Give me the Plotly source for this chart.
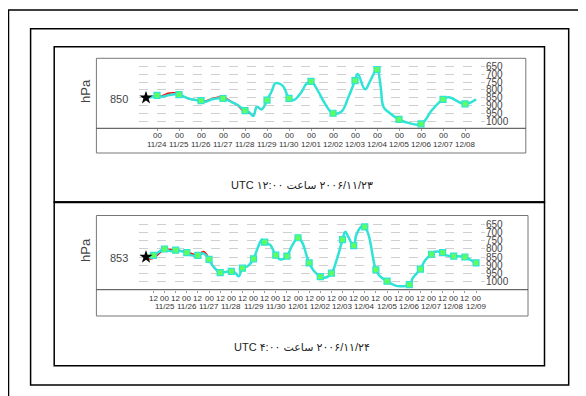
import plotly.graph_objects as go

# browser body margin is 8px: figure sits at (8, 8) inside the 586x396 window
OFF = 8
W, H = 586 - OFF, 396 - OFF

# ---------------- data (pressure in hPa vs hours since start) ----------------
# top panel: start 2006/11/23 12:00 UTC
top_t = [0, 6, 12, 18, 24, 29, 36, 42, 48, 60, 66, 72, 84, 94, 100, 108, 113, 117, 121, 126,
         132, 137, 141, 145, 150, 156, 161, 169, 175, 180, 188, 195, 204, 213, 221, 228, 231,
         239, 245, 252, 256, 259, 264, 276, 286, 300, 312, 324, 330, 348, 360]
top_p = [850, 845, 835, 843, 834, 829, 830, 845, 858, 869, 875, 860, 855, 880, 897, 933, 945, 968, 908, 925,
         865, 810, 757, 758, 779, 854, 865, 818, 760, 745, 811, 886, 950, 940, 843, 740, 697,
         796, 736, 668, 780, 908, 940, 989, 1012, 1019, 929, 860, 847, 890, 860]
top_red_t = [0, 6, 12, 18, 24, 30, 36, 42, 48, 60, 66, 72, 84, 94, 100, 108, 113, 117, 121, 126, 132]
top_red_p = [850, 842, 838, 836, 822, 818, 824, 845, 858, 869, 870, 856, 847, 878, 900, 946, 950, 966, 910, 925, 865]
top_tick_t = [12, 36, 60, 84, 108, 132, 156, 180, 204, 228, 252, 276, 300, 324, 348]
top_tick_hour = ["00"] * 15
top_tick_date = ["11/24", "11/25", "11/26", "11/27", "11/28", "11/29", "11/30", "12/01",
                 "12/02", "12/03", "12/04", "12/05", "12/06", "12/07", "12/08"]

# bottom panel: start 2006/11/24 04:00 UTC
bot_t = [0, 8, 20, 26, 32, 38, 44, 49, 56, 62, 68, 72, 80, 85, 92, 96, 100, 104, 110, 116,
         121, 125, 128, 134, 140, 145, 152, 157, 164, 168, 176, 181, 188, 193, 200, 206, 212,
         215, 218, 224, 227, 233, 236, 240, 248, 252, 260, 269, 276, 284, 288, 296, 301, 308,
         312, 320, 324, 332, 344, 351, 356]
bot_p = [850, 840, 801, 814, 808, 814, 823, 840, 840, 829, 865, 903, 945, 941, 938, 945, 968, 918, 905, 861,
         787, 745, 759, 776, 839, 865, 844, 787, 732, 755, 886, 934, 970, 977, 949, 861, 744,
         696, 724, 780, 713, 660, 666, 713, 928, 966, 998, 1025, 1029, 1019, 977, 924, 871, 833,
         818, 823, 840, 844, 850, 871, 886]
bot_red_t = [0, 4, 8, 20, 32, 44, 56, 62, 68, 72, 80]
bot_red_p = [852, 862, 858, 806, 808, 820, 836, 816, 860, 905, 948]
bot_tick_t = [8, 20, 32, 44, 56, 68, 80, 92, 104, 116, 128, 140, 152, 164, 176, 188, 200, 212,
              224, 236, 248, 260, 272, 284, 296, 308, 320, 332, 344, 356]
bot_tick_hour = ["12", "00"] * 15
bot_tick_date = ["11/25", "11/26", "11/27", "11/28", "11/29", "11/30", "12/01", "12/02",
                 "12/03", "12/04", "12/05", "12/06", "12/07", "12/08", "12/09"]

levels = [650, 700, 750, 800, 850, 900, 950, 1000]
start_labels = ["850", "853"]
captions = ["\u202B۲۰۰۶/۱۱/۲۳ ساعت ۱۲:۰۰ UTC\u202C", "\u202B۲۰۰۶/۱۱/۲۴ ساعت ۴:۰۰ UTC\u202C"]


# ---------------- helpers (window pixels -> paper fraction) ----------------
def px(x):
    return (x - OFF) / W


def py(y):
    return 1 - (y - OFF) / H


CYAN = "#2fe3d6"
GREEN = "#5cff5c"
FONT = "Liberation Sans, Arial, DejaVu Sans"

fig = go.Figure()


def add_panel(t, p, rt, rp, mk_t, ax):
    xa = "x" if ax == 1 else "x2"
    ya = "y" if ax == 1 else "y2"
    fig.add_trace(go.Scatter(x=rt, y=rp, mode="lines",
                             line=dict(color="red", width=1.6, shape="spline", smoothing=1.2),
                             xaxis=xa, yaxis=ya, showlegend=False, hoverinfo="skip"))
    fig.add_trace(go.Scatter(x=t, y=p, mode="lines",
                             line=dict(color=CYAN, width=2.5, shape="spline", smoothing=1.2),
                             xaxis=xa, yaxis=ya, showlegend=False))
    mx = [a for a in t if a in mk_t]
    my = [b for a, b in zip(t, p) if a in mk_t]
    fig.add_trace(go.Scatter(x=mx, y=my, mode="markers",
                             marker=dict(symbol="square", size=6, color=GREEN, line=dict(color=CYAN, width=1.2)),
                             xaxis=xa, yaxis=ya, showlegend=False))
    fig.add_trace(go.Scatter(x=[t[0]], y=[p[0]], mode="markers",
                             marker=dict(symbol="star", size=10, color="black"),
                             xaxis=xa, yaxis=ya, showlegend=False))


add_panel(top_t, top_p, top_red_t, top_red_p, top_tick_t, 1)
add_panel(bot_t, bot_p, bot_red_t, bot_red_p, bot_tick_t, 2)

xcommon = dict(showgrid=False, zeroline=False, showline=False, ticks="outside", ticklen=2,
               tickcolor="#999", showticklabels=False)
ycommon = dict(showgrid=True, gridcolor="#cfcfcf", griddash="dash", gridwidth=1, zeroline=False,
               showline=False, side="right", ticks="", tickvals=levels,
               ticktext=[str(v) for v in levels], tickfont=dict(size=10, color="#444", family=FONT))

fig.update_layout(
    width=W, height=H, margin=dict(l=0, r=0, t=0, b=0),
    paper_bgcolor="white", plot_bgcolor="white",
    xaxis=dict(domain=[px(139), px(485)], range=[-7.64, 369.8], anchor="y",
               tickvals=top_tick_t, **xcommon),
    yaxis=dict(domain=[py(128.3), py(58.3)], range=[1047, 596], anchor="x", **ycommon),
    xaxis2=dict(domain=[px(139), px(485)], range=[-7.55, 365.7], anchor="y2",
                tickvals=bot_tick_t, **xcommon),
    yaxis2=dict(domain=[py(289.7), py(215.5)], range=[1050, 596], anchor="x2", **ycommon),
)

shapes = []


def rect(x0, y0, x1, y1, color="black", width=1.5):
    shapes.append(dict(type="rect", xref="paper", yref="paper", x0=px(x0), x1=px(x1), y0=py(y1), y1=py(y0),
                       line=dict(color=color, width=width), fillcolor="rgba(0,0,0,0)", layer="above"))


def hline(x0, x1, y, color="#555", width=1):
    shapes.append(dict(type="line", xref="paper", yref="paper", x0=px(x0), x1=px(x1), y0=py(y), y1=py(y),
                       line=dict(color=color, width=width), layer="above"))


rect(8.5, 10, 640, 440, width=1.5)
rect(30.6, 28.7, 568.7, 385, width=1.5)
rect(54.2, 46.7, 544.5, 202.3, width=1.5)
rect(54.2, 202.3, 544.5, 365.7, width=1.5)
hline(54.2, 544.5, 202.3, color="black", width=2)
rect(96.4, 58.3, 525.8, 153, color="#777", width=1)
hline(96.4, 525.8, 128.3, color="#444", width=1)
rect(96.4, 215.5, 528, 316, color="#777", width=1)
hline(96.4, 528, 289.7, color="#444", width=1)
fig.update_layout(shapes=shapes)

ann = []


def label(x, y, text, size, color="#333", xref="paper", angle=0):
    ann.append(dict(x=x, y=y, xref=xref, yref="paper", text=text, textangle=angle, showarrow=False,
                    xanchor="center", yanchor="middle", font=dict(size=size, color=color, family=FONT)))


for i, (yc_h, yc_l, yc_c) in enumerate([(91, 98.5, 185.5), (250, 258, 347)]):
    label(px(85), py(yc_h), "hPa", 13, "#444", angle=-90)
    label(px(119), py(yc_l), start_labels[i], 11, "#444")
    label(px(302), py(yc_c), captions[i], 11, "#222")

# hour labels and date lines under the axes
for h, t in zip(top_tick_hour, top_tick_t):
    label(t, py(135.5), h, 8, xref="x")
for d, t in zip(top_tick_date, top_tick_t):
    label(t, py(144), d, 8, xref="x")
for h, t in zip(bot_tick_hour, bot_tick_t):
    label(t, py(298), h, 8, xref="x2")
bot_00 = [t for t, h in zip(bot_tick_t, bot_tick_hour) if h == "00"]
for d, t in zip(bot_tick_date, bot_00):
    label(t, py(306.5), d, 8, xref="x2")
fig.update_layout(annotations=ann)

fig.write_html("out.html")
